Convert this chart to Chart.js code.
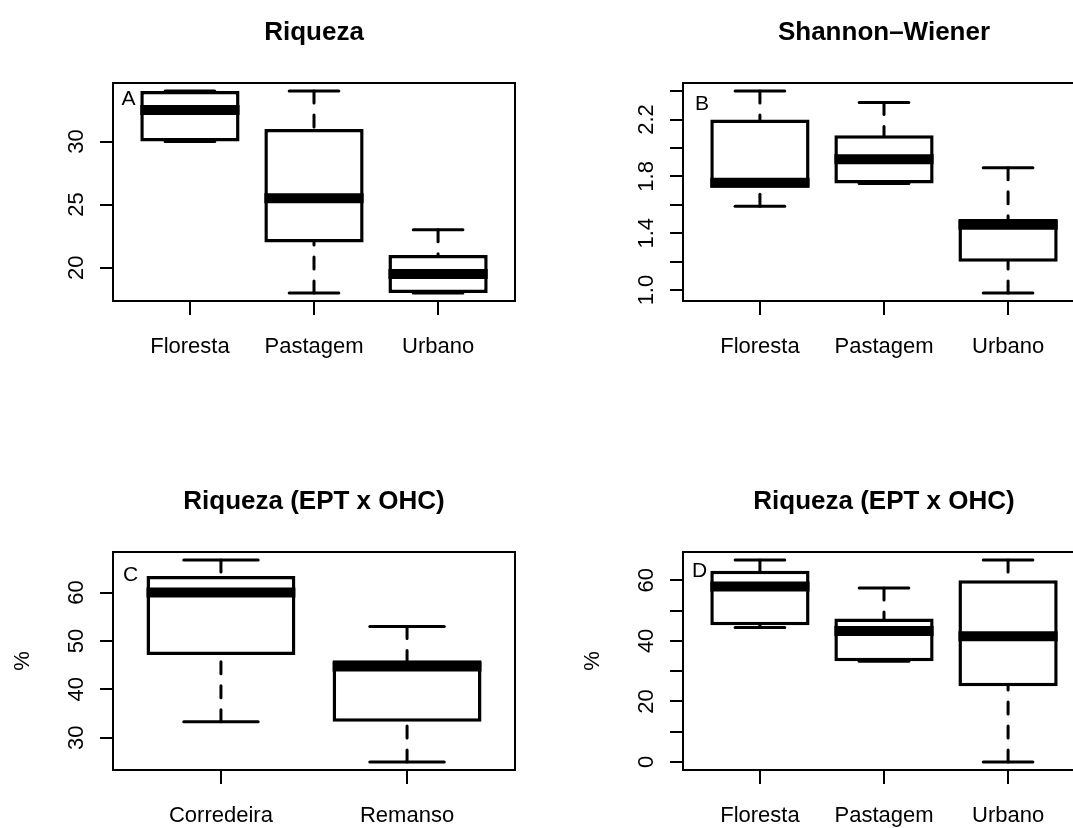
<!DOCTYPE html>
<html>
<head>
<meta charset="utf-8">
<script src="https://cdn.jsdelivr.net/npm/chart.js@4/dist/chart.umd.min.js"></script>
<style>
  html, body { margin: 0; padding: 0; background: #fff; width: 1073px; height: 828px; overflow: hidden; }
  canvas { position: absolute; display: block; }
</style>
</head>
<body>
<canvas id="panelA"></canvas>
<canvas id="panelB"></canvas>
<canvas id="panelC"></canvas>
<canvas id="panelD"></canvas>
<script>
// Groups
const habitatLabels = ['Floresta', 'Pastagem', 'Urbano'];
const flowLabels = ['Corredeira', 'Remanso'];

// Five-number summaries per group: [lower whisker, Q1, median, Q3, upper whisker]
const riqueza = [
  [30, 30, 32.5, 34, 34],
  [18, 22, 25.5, 31, 34],
  [18, 18, 19.5, 21, 23]
];
const shannon = [
  [1.59, 1.72, 1.755, 2.20, 2.40],
  [1.75, 1.75, 1.92, 2.09, 2.32],
  [0.98, 1.20, 1.46, 1.50, 1.86]
];
const eptFlow = [
  [33.3, 47.1, 60.0, 63.4, 66.7],
  [25.0, 33.3, 44.7, 46.0, 53.0]
];
const eptHabitat = [
  [44.4, 45.2, 58.0, 63.2, 66.7],
  [33.3, 33.3, 43.3, 47.4, 57.5],
  [0.0, 25.0, 41.5, 60.0, 66.7]
];

// Axis ticks (all) and the ones that carry a label
const riquezaTicks = [20, 25, 30];
const riquezaTickLabels = [20, 25, 30];
const shannonTicks = [1.0, 1.2, 1.4, 1.6, 1.8, 2.0, 2.2, 2.4];
const shannonTickLabels = [1.0, 1.4, 1.8, 2.2];
const eptFlowTicks = [30, 40, 50, 60];
const eptFlowTickLabels = [30, 40, 50, 60];
const eptHabitatTicks = [0, 10, 20, 30, 40, 50, 60];
const eptHabitatTickLabels = [0, 20, 40, 60];

// Titles, panel letters and y-axis labels
const titles = ['Riqueza', 'Shannon\u2013Wiener', 'Riqueza (EPT x OHC)', 'Riqueza (EPT x OHC)'];
const letters = ['A', 'B', 'C', 'D'];
const yTitles = ['', '', '%', '%'];

const FONT = '"Liberation Sans", Arial, Helvetica, sans-serif';
const PLOT_W = 402, PLOT_H = 218, X_AXIS_H = 20;

function fmt(v, digits) { return digits ? v.toFixed(digits) : String(v); }

function boxplotPlugin(p) {
  return {
    id: 'boxplot_' + p.id,
    beforeDatasetsDraw(chart) {
      // dashed whiskers and staples, drawn below the boxes
      const ctx = chart.ctx, xs = chart.scales.x, ys = chart.scales.y;
      const unit = xs.getPixelForValue(2) - xs.getPixelForValue(1);
      ctx.save();
      ctx.strokeStyle = '#000';
      ctx.lineWidth = 3;
      p.stats.forEach((s, i) => {
        const cx = xs.getPixelForValue(i + 1);
        [[0, 1], [4, 3]].forEach(([end, hinge]) => {
          const yEnd = ys.getPixelForValue(s[end]);
          const yHinge = ys.getPixelForValue(s[hinge]);
          if (Math.abs(yEnd - yHinge) > 0.5) {
            ctx.setLineDash([12, 12]);
            ctx.lineCap = 'round';
            ctx.beginPath();
            ctx.moveTo(cx, yEnd);
            ctx.lineTo(cx, yHinge);
            ctx.stroke();
          }
          ctx.setLineDash([]);
          ctx.lineCap = 'round';
          ctx.beginPath();
          ctx.moveTo(cx - 0.2 * unit, yEnd);
          ctx.lineTo(cx + 0.2 * unit, yEnd);
          ctx.stroke();
        });
      });
      ctx.restore();
    },
    afterDatasetsDraw(chart) {
      const ctx = chart.ctx, xs = chart.scales.x, ys = chart.scales.y;
      const a = chart.chartArea;
      const unit = xs.getPixelForValue(2) - xs.getPixelForValue(1);
      ctx.save();
      // medians
      ctx.strokeStyle = '#000';
      ctx.lineWidth = 10;
      ctx.lineCap = 'butt';
      p.stats.forEach((s, i) => {
        const cx = xs.getPixelForValue(i + 1);
        const y = ys.getPixelForValue(s[2]);
        ctx.beginPath();
        ctx.moveTo(cx - 0.4 * unit, y);
        ctx.lineTo(cx + 0.4 * unit, y);
        ctx.stroke();
      });
      // plot frame
      ctx.lineWidth = 2;
      ctx.lineCap = 'square';
      ctx.beginPath();
      if (p.clipped) {
        ctx.moveTo(a.right + 4, a.top);
        ctx.lineTo(a.left, a.top);
        ctx.lineTo(a.left, a.bottom);
        ctx.lineTo(a.right + 4, a.bottom);
      } else {
        ctx.rect(a.left, a.top, a.right - a.left, a.bottom - a.top);
      }
      ctx.stroke();
      ctx.restore();
    },
    afterDraw(chart) {
      const ctx = chart.ctx, xs = chart.scales.x, ys = chart.scales.y;
      const a = chart.chartArea;
      ctx.save();
      ctx.fillStyle = '#000';
      // title, centred over the full plot region
      ctx.font = 'bold 26px ' + FONT;
      ctx.textAlign = 'center';
      ctx.textBaseline = 'alphabetic';
      ctx.fillText(p.title, xs.getPixelForValue((p.labels.length + 1) / 2), a.top - 43);
      // category labels
      ctx.font = '22px ' + FONT;
      p.labels.forEach((lab, i) => {
        ctx.fillText(lab, xs.getPixelForValue(i + 1), a.bottom + 52);
      });
      // rotated y tick labels
      p.tickLabels.forEach(v => {
        ctx.save();
        ctx.translate(a.left - 30, ys.getPixelForValue(v));
        ctx.rotate(-Math.PI / 2);
        ctx.textAlign = 'center';
        ctx.fillText(fmt(v, p.digits), 0, 0);
        ctx.restore();
      });
      // y-axis title
      if (p.yTitle) {
        ctx.save();
        ctx.translate(a.left - 84, (a.top + a.bottom) / 2);
        ctx.rotate(-Math.PI / 2);
        ctx.textAlign = 'center';
        ctx.fillText(p.yTitle, 0, 0);
        ctx.restore();
      }
      // panel letter
      ctx.font = '21px ' + FONT;
      ctx.textAlign = 'left';
      ctx.fillText(p.letter, a.left + p.letterPos[0], a.top + p.letterPos[1]);
      ctx.restore();
    }
  };
}

function buildPanel(p) {
  const canvas = document.getElementById(p.id);
  canvas.width = p.box.w;
  canvas.height = p.box.h;
  canvas.style.left = p.box.x + 'px';
  canvas.style.top = p.box.y + 'px';
  canvas.style.width = p.box.w + 'px';
  canvas.style.height = p.box.h + 'px';

  const left = p.frame.x - p.box.x;
  const top = p.frame.y - p.box.y;
  const right = Math.min(left + PLOT_W, p.box.w);
  const bottom = top + PLOT_H;
  p.clipped = right < left + PLOT_W;

  // R-style axis limits: 4% extension of the data / group range
  const n = p.labels.length;
  const xMin = 0.5 - 0.04 * n;
  const xMaxFull = n + 0.5 + 0.04 * n;
  const xMax = xMin + (xMaxFull - xMin) * (right - left) / PLOT_W;
  const vals = p.stats.flat();
  const lo = Math.min(...vals), hi = Math.max(...vals);
  const ext = (hi - lo) * 0.04;

  const tickGrid = len => ({
    display: true, drawOnChartArea: false, drawTicks: true,
    tickLength: len, lineWidth: 2, color: '#000', offset: false
  });

  return new Chart(canvas, {
    type: 'bar',
    data: {
      datasets: [{
        data: p.stats.map((s, i) => ({ x: i + 1, y: [s[1], s[3]] })),
        backgroundColor: '#fff',
        borderColor: '#000',
        borderWidth: 3.5,
        borderSkipped: false,
        borderRadius: 0,
        barPercentage: 0.8,
        categoryPercentage: 1
      }]
    },
    options: {
      responsive: false,
      animation: false,
      events: [],
      layout: { padding: { left: 0, top: top, right: p.box.w - right, bottom: p.box.h - bottom - X_AXIS_H } },
      plugins: { legend: { display: false }, tooltip: { enabled: false }, title: { display: false } },
      scales: {
        x: {
          type: 'linear', position: 'bottom', min: xMin, max: xMax, offset: false,
          afterBuildTicks: s => { s.ticks = p.labels.map((_, i) => ({ value: i + 1 })); },
          afterFit: s => { s.height = X_AXIS_H; },
          ticks: { display: false },
          grid: tickGrid(14),
          border: { display: false }
        },
        y: {
          type: 'linear', position: 'left', min: lo - ext, max: hi + ext,
          afterBuildTicks: s => { s.ticks = p.ticks.map(v => ({ value: v })); },
          afterFit: s => { s.width = left; },
          ticks: { display: false },
          grid: tickGrid(13),
          border: { display: false }
        }
      }
    },
    plugins: [boxplotPlugin(p)]
  });
}

buildPanel({
  id: 'panelA', box: { x: 0, y: 0, w: 537, h: 414 }, frame: { x: 113, y: 83 },
  labels: habitatLabels, stats: riqueza, ticks: riquezaTicks, tickLabels: riquezaTickLabels, digits: 0,
  title: titles[0], letter: letters[0], yTitle: yTitles[0], letterPos: [8.5, 22]
});
buildPanel({
  id: 'panelB', box: { x: 537, y: 0, w: 536, h: 414 }, frame: { x: 683, y: 83 },
  labels: habitatLabels, stats: shannon, ticks: shannonTicks, tickLabels: shannonTickLabels, digits: 1,
  title: titles[1], letter: letters[1], yTitle: yTitles[1], letterPos: [12, 27]
});
buildPanel({
  id: 'panelC', box: { x: 0, y: 414, w: 537, h: 414 }, frame: { x: 113, y: 552 },
  labels: flowLabels, stats: eptFlow, ticks: eptFlowTicks, tickLabels: eptFlowTickLabels, digits: 0,
  title: titles[2], letter: letters[2], yTitle: yTitles[2], letterPos: [10, 29]
});
buildPanel({
  id: 'panelD', box: { x: 537, y: 414, w: 536, h: 414 }, frame: { x: 683, y: 552 },
  labels: habitatLabels, stats: eptHabitat, ticks: eptHabitatTicks, tickLabels: eptHabitatTickLabels, digits: 0,
  title: titles[3], letter: letters[3], yTitle: yTitles[3], letterPos: [9, 25]
});
</script>
</body>
</html>
